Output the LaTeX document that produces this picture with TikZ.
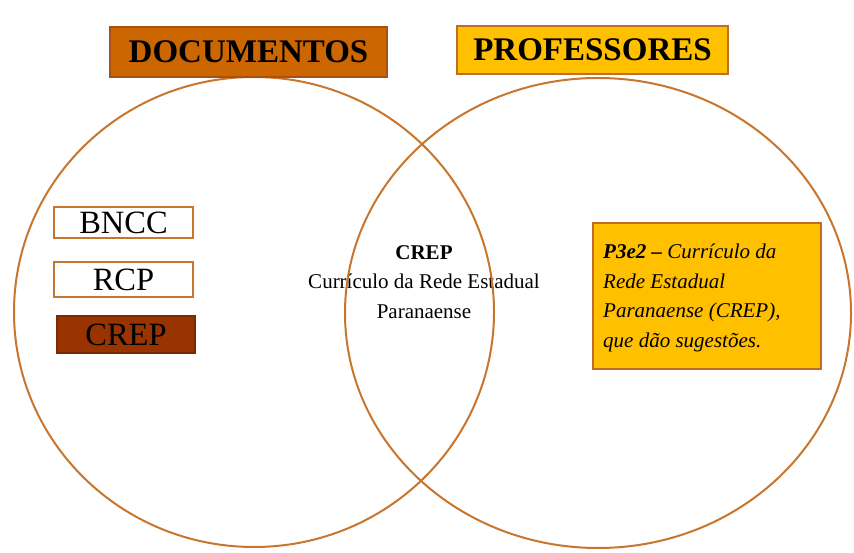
\documentclass[tikz,border=0pt]{standalone}
\usepackage{fontspec}
\setmainfont{Liberation Serif}
\definecolor{ringc}{RGB}{200,118,45}
\definecolor{docfill}{RGB}{204,102,0}
\definecolor{docdraw}{RGB}{170,80,20}
\definecolor{proffill}{RGB}{255,192,0}
\definecolor{profdraw}{RGB}{190,110,40}
\definecolor{crepfill}{RGB}{153,51,0}
\begin{document}
\begin{tikzpicture}[x=1pt,y=-1pt,
  ring/.style={draw=ringc,line width=2pt},
  header/.style={draw,line width=1.2pt,inner sep=0pt,font=\fontsize{33}{38}\selectfont\bfseries},
  itembox/.style={draw=ringc,line width=1.3pt,fill=white,inner sep=0pt,font=\fontsize{32.5}{36}\selectfont},
]
\useasboundingbox (0,0) rectangle (854,553);
\fill[white] (0,0) rectangle (854,553);
% center text
\node[align=center,font=\fontsize{21}{29.5}\selectfont] (mid) at (424,282)
  {\textbf{CREP}\\Currículo da Rede Estadual\\Paranaense};
% left items
\node[itembox,minimum width=139pt,minimum height=31pt] (bncc) at (123.5,222.5) {BNCC};
\node[itembox,minimum width=139pt,minimum height=35pt] (rcp) at (123.5,279.5) {RCP};
\node[itembox,draw=crepfill!80!black,fill=crepfill,minimum width=138pt,minimum height=37pt] (crep) at (126,334.5) {CREP};
% right box
\node[draw=profdraw,line width=1.3pt,fill=proffill,minimum width=228pt,minimum height=146pt,inner sep=0pt] (p3) at (707,296) {};
\node[anchor=north west,align=left,inner sep=0pt,font=\fontsize{21}{29.5}\selectfont\itshape] (p3t) at (603,244)
  {\textbf{P3e2 –} Currículo da\\Rede Estadual\\Paranaense (CREP),\\que dão sugestões.};
% circles
\draw[ring] (254,312) ellipse [x radius=240, y radius=235];
\draw[ring] (598,313) ellipse [x radius=253, y radius=235];
% headers
\node[header,fill=docfill,draw=docdraw,minimum width=277pt,minimum height=50pt] (doc) at (248.5,52) {DOCUMENTOS};
\node[header,fill=proffill,draw=profdraw,minimum width=271pt,minimum height=48pt] (prof) at (592.5,50) {PROFESSORES};
\end{tikzpicture}
\end{document}
